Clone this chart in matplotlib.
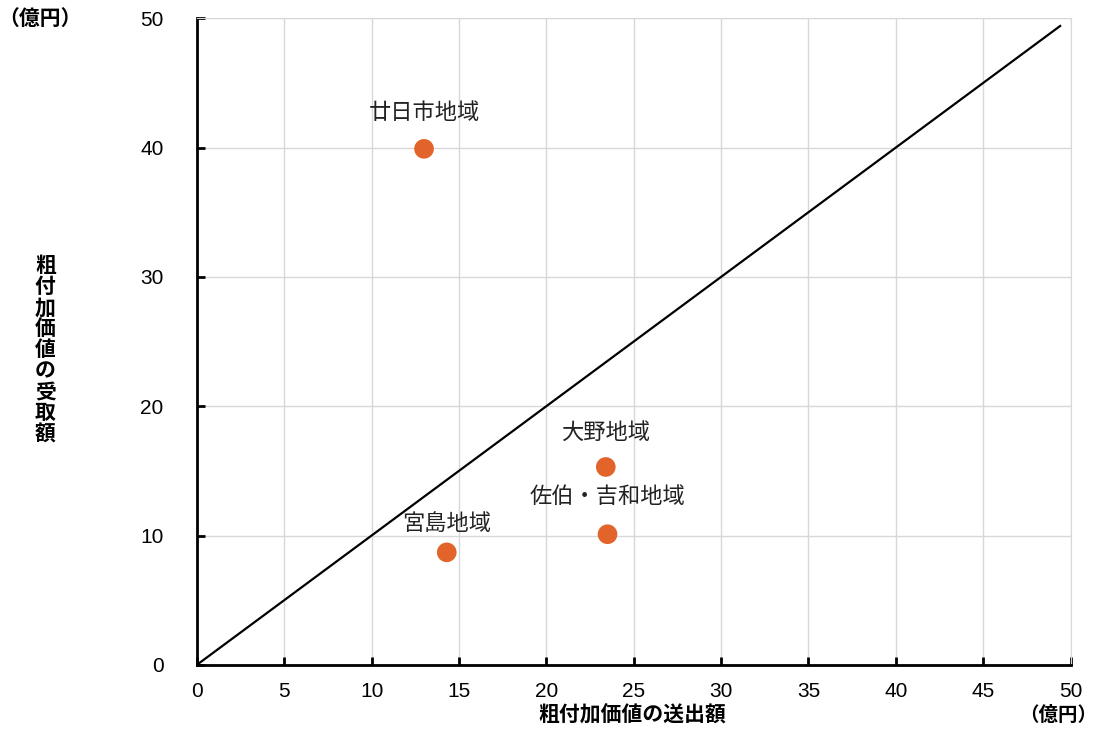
import matplotlib
matplotlib.use("Agg")
import matplotlib.pyplot as plt

plt.rcParams['font.family'] = ['Noto Sans CJK JP', 'DejaVu Sans']

# data
regions = ['廿日市地域', '大野地域', '佐伯・吉和地域', '宮島地域']
sent = [13.0, 23.4, 23.5, 14.3]       # 粗付加価値の送出額
received = [39.9, 15.3, 10.1, 8.7]    # 粗付加価値の受取額
label_dy = [2.8, 2.7, 2.9, 2.2]
diag = [0, 49.4]
ticks = [0, 5, 10, 15, 20, 25, 30, 35, 40, 45, 50]
yticks = [0, 10, 20, 30, 40, 50]

fig = plt.figure(figsize=(11.06, 7.29), dpi=100)
ax = fig.add_axes([0.178, 0.088, 0.79, 0.887])

ax.plot(diag, diag, color='black', lw=1.6, zorder=2)
ax.scatter(sent, received, s=200, color='#e2642a', zorder=3, edgecolors='none')
for name, x, y, dy in zip(regions, sent, received, label_dy):
    ax.text(x, y + dy, name, ha='center', va='center', fontsize=16, color='#222222')

ax.set_xlim(0, 50)
ax.set_ylim(0, 50)
ax.set_xticks(ticks)
ax.set_yticks(yticks)
ax.grid(True, color='#d8d8d8', lw=1)
ax.set_axisbelow(True)
for s in ['top', 'right']:
    ax.spines[s].set_color('#d8d8d8')
for s in ['left', 'bottom']:
    ax.spines[s].set_linewidth(2)
ax.tick_params(direction='in', length=6, width=2, labelsize=15)
ax.tick_params(axis='y', pad=24)
ax.tick_params(axis='x', pad=12)
for lbl in ax.get_xticklabels() + ax.get_yticklabels():
    lbl.set_fontfamily(['Liberation Sans', 'DejaVu Sans'])

fig.text(0.036, 0.975, '（億円）', fontsize=15, fontweight='bold', ha='center', va='center')
fig.text(0.041, 0.52, '\n'.join('粗付加価値の受取額'), fontsize=15, fontweight='bold',
         ha='center', va='center', linespacing=1.0)
fig.text(0.572, 0.019, '粗付加価値の送出額', fontsize=15, fontweight='bold', ha='center', va='center')
fig.text(0.992, 0.019, '（億円）', fontsize=14, fontweight='bold', ha='right', va='center')

fig.savefig('out.png', dpi=100)
